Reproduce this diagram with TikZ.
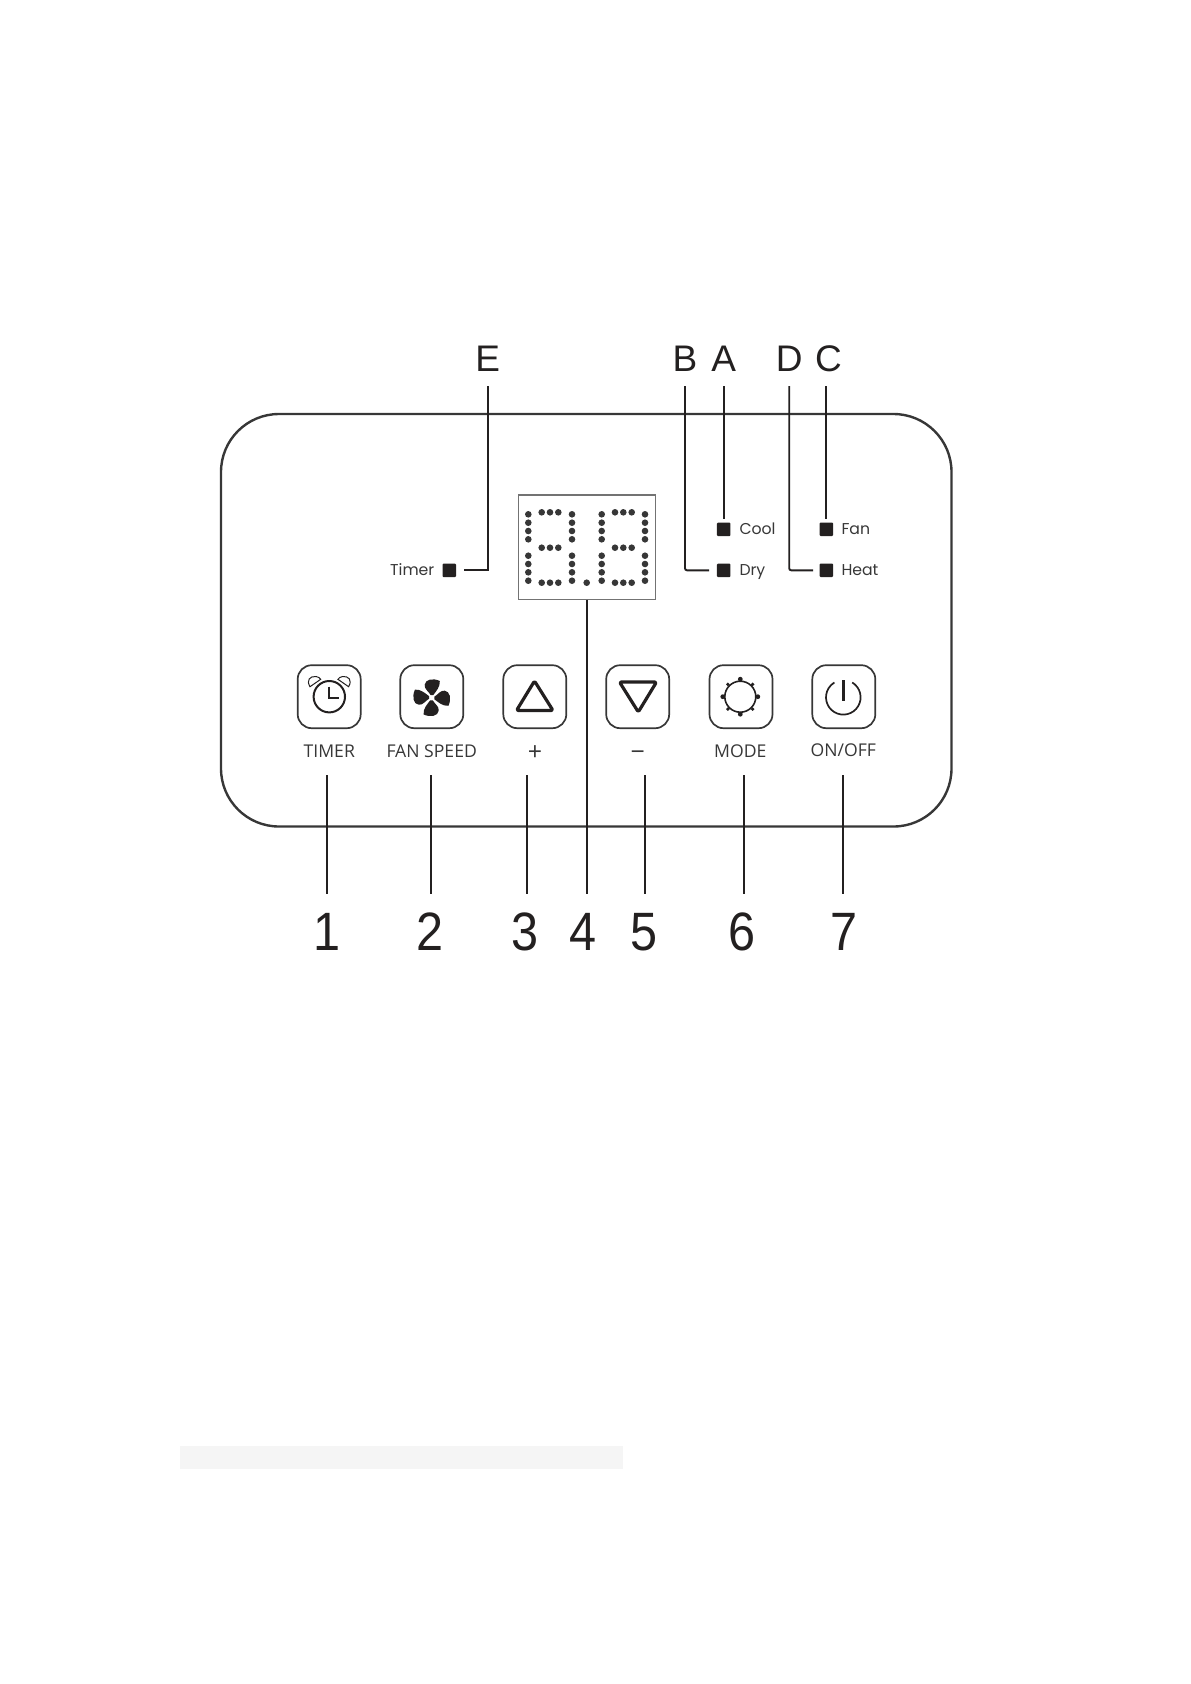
\documentclass[tikz,border=0pt]{standalone}
\usepackage{fontspec}
\usepackage{xcolor}
\usetikzlibrary{calc}
\setmainfont{Liberation Sans}
\newfontfamily\ledfont{Poppins}
\newfontfamily\btnfont{Open Sans}
\newfontfamily\numfont[FakeStretch=0.9]{Liberation Sans}
\definecolor{panelink}{RGB}{55, 55, 55}
\definecolor{leadink}{RGB}{35, 32, 32}

\begin{document}
\begin{tikzpicture}[
  x=1pt, y=-1pt,
  panel/.style={draw=panelink, line width=2.4pt, rounded corners=58pt},
  btn/.style={draw=panelink, line width=1.7pt, rounded corners=14pt,
    minimum size=63pt, inner sep=0pt},
  led/.style={fill=leadink, rounded corners=1pt, minimum size=13.5pt, inner sep=0pt},
  ledtext/.style={font=\ledfont\fontsize{15.7}{15.7}\selectfont, text=panelink, inner sep=0pt},
  btntext/.style={font=\btnfont\fontsize{17.6}{17.6}\selectfont, text=panelink, inner sep=0pt, anchor=base},
  letter/.style={font=\fontsize{37}{37}\selectfont, text=leadink, inner sep=0pt, text depth=0pt, anchor=base},
  numlbl/.style={font=\numfont\fontsize{54}{54}\selectfont, text=leadink, inner sep=0pt, text depth=0pt, anchor=base},
  leader/.style={draw=leadink, line width=1.9pt},
  thinleader/.style={draw=leadink, line width=1.7pt},
  icon/.style={draw=leadink, line width=1.6pt},
  dot/.style={fill=panelink}
]
  \useasboundingbox (0,0) rectangle (1191,1684);

  % faint strip low on the page
  \fill[black!4] (180,1445.5) rectangle (622.5,1468.5);

  % housing
  \draw[panel] (221,414) rectangle (951.5,826.5);

  % display
  \node[draw=black!55, line width=1.2pt, minimum width=137pt, minimum height=104.3pt, inner sep=0pt] (display) at (586.8,547.2) {};
  \foreach \cx/\rx in {528.3/572, 601.7/645} {
    \foreach \yy in {514.3, 522.7, 531, 539.3, 555.7, 564, 572.3, 580.7} {
      \fill[dot] (\cx,\yy) circle[radius=3.3pt];
      \fill[dot] (\rx,\yy) circle[radius=3.3pt];
    }
  }
  \foreach \tx in {541.7, 550, 558.3, 615, 623.3, 631.7} {
    \fill[dot] (\tx,512.3) circle[radius=3.3pt];
    \fill[dot] (\tx,547.7) circle[radius=3.3pt];
    \fill[dot] (\tx,582.7) circle[radius=3.3pt];
  }
  \fill[dot] (586.7,582.7) circle[radius=3.3pt];

  % indicator lamps
  \node[led] (ledTimer) at (449.3,570.3) {};
  \node[led] (ledCool) at (723.7,529.3) {};
  \node[led] (ledDry) at (723.7,570.3) {};
  \node[led] (ledFan) at (826.3,529.3) {};
  \node[led] (ledHeat) at (826.3,570.3) {};
  \node[ledtext, anchor=base east] (txtTimer) at (434.5,575.6) {Timer};
  \node[ledtext, anchor=base west] (txtCool) at (739.3,534.6) {Cool};
  \node[ledtext, anchor=base west] (txtDry) at (739.3,575.6) {Dry};
  \node[ledtext, anchor=base west] (txtFan) at (841.3,534.6) {Fan};
  \node[ledtext, anchor=base west] (txtHeat) at (841.3,575.6) {Heat};

  % top letters
  \node[letter] (lblE) at (487.7,371.5) {E};
  \node[letter] (lblB) at (685,371.5) {B};
  \node[letter] (lblA) at (723.7,371.5) {A};
  \node[letter] (lblD) at (789.2,371.5) {D};
  \node[letter] (lblC) at (828.5,371.5) {C};

  \draw[leader, shorten <=14.5pt, shorten >=14.7pt] (lblE.south) |- (ledTimer.center);
  \draw[leader, shorten <=14.5pt, shorten >=14.7pt, rounded corners=2pt] (lblB.south) |- (ledDry.center);
  \draw[leader, shorten <=14.5pt, shorten >=13.3pt, rounded corners=2pt] (lblD.south) |- (ledHeat.center);
  \draw[leader, shorten <=14.5pt, shorten >=10pt] (lblA.south) -- (ledCool.center);
  \draw[leader, shorten <=14.5pt, shorten >=10pt] (lblC.south -| ledFan) -- (ledFan.center);

  % buttons
  \node[btn] (btnTimer) at (329.2,696.7) {};
  \node[btn] (btnFan) at (431.8,696.7) {};
  \node[btn] (btnPlus) at (534.8,696.7) {};
  \node[btn] (btnMinus) at (637.7,696.7) {};
  \node[btn] (btnMode) at (741,696.7) {};
  \node[btn] (btnPower) at (843.8,696.7) {};

  \node[btntext] (txtBtnTimer) at (329.3,757.7) {TIMER};
  \node[btntext] (txtBtnFan) at (431.7,757.7) {FAN SPEED};
  \node[btntext, font=\btnfont\fontsize{25}{25}\selectfont] (txtBtnPlus) at (535,760) {+};
  \node[btntext, font=\btnfont\fontsize{25}{25}\selectfont] (txtBtnMinus) at (637.7,760) {−};
  \node[btntext] (txtBtnMode) at (740.3,757.7) {MODE};
  \node[btntext] (txtBtnPower) at (843.3,756.7) {ON/OFF};

  % clock icon
  \draw[icon, line width=2pt] (329.3,696.7) circle[radius=15.7pt];
  \draw[icon, line width=2pt] (329.3,686.7) -- (329.3,698.3) -- (339.3,698.3);
  \draw[icon, line width=1pt] (310,686.7) .. controls (306,680) and (310,676) .. (316,676.5)
    .. controls (318,676.7) and (320,678) .. (320.7,679.3) -- cycle;
  \draw[icon, line width=1pt] (348.6,686.7) .. controls (352.6,680) and (348.6,676) .. (342.6,676.5)
    .. controls (340.6,676.7) and (338.6,678) .. (337.9,679.3) -- cycle;

  % fan icon
  \foreach \ang in {0,90,180,270} {
    \begin{scope}[shift={(431.7,697.7)}, rotate=\ang, scale=1.08]
      \fill[leadink] (-1,-2.5) .. controls (-3,-6) and (-7,-8) .. (-6.5,-12)
        .. controls (-6,-17) and (1,-18.5) .. (7.5,-15.5)
        .. controls (8,-10) and (4,-6) .. (1.5,-2.5) -- cycle;
    \end{scope}
  }

  % up and down triangles
  \draw[leadink, line width=3.2pt, line join=round, rounded corners=1.5pt]
    (534.5,681) -- (553,710.5) -- (516.5,710.5) -- cycle;
  \draw[leadink, line width=3.2pt, line join=round, rounded corners=1.5pt]
    (619.5,682) -- (656.5,682) -- (638.3,712) -- cycle;

  % mode icon
  \draw[icon] (740.3,696.7) circle[radius=15.5pt];
  \foreach \ang in {0,90,180,270} {
    \fill[leadink] (740.3,696.7) ++(\ang:17.5pt) circle[radius=2.4pt];
    \fill[leadink] (740.3,696.7) ++(\ang+45:17.5pt) circle[radius=1.9pt];
  }

  % power icon
  \draw[icon, line width=1.7pt] (843.3,697.3) ++(59:17.3pt) arc[start angle=59, end angle=-239, radius=17.3pt];
  \draw[icon, line width=3pt] (843.3,680) -- (843.3,700.7);

  % bottom numbers and their lines
  \foreach \n/\lx/\nx in {1/327.3/327, 2/430.7/430.5, 3/527.3/524.6, 5/644.7/644.5, 6/744/742, 7/843.3/844} {
    \node[numlbl] (num\n) at (\nx,950.5) {\n};
    \coordinate (top\n) at (\lx,775.4);
    \draw[thinleader] (top\n) -- (top\n |- 0,893.5);
  }
  \node[numlbl] (num4) at (583.5,950.5) {4};
  \draw[thinleader] (display.south -| 587.3,0) -- (587.3,893.5);
\end{tikzpicture}
\end{document}
